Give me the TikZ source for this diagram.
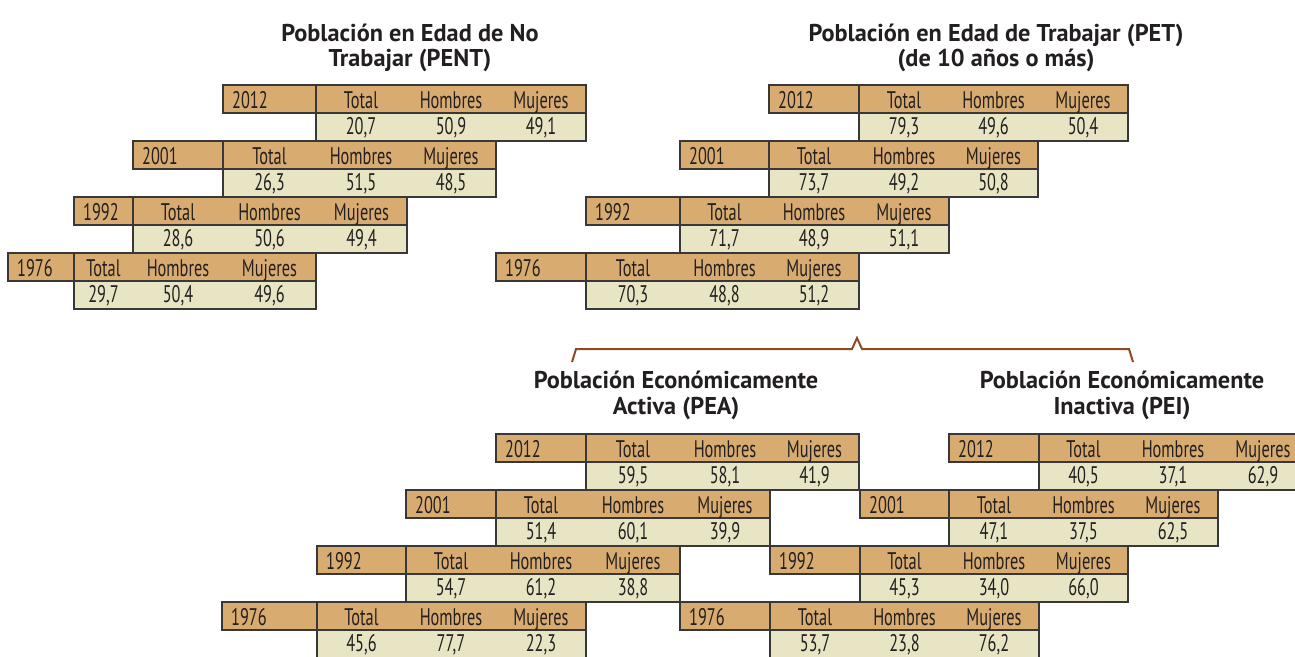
\documentclass[tikz,border=0pt]{standalone}
\usepackage{fontspec}
\newfontfamily\tabfont[FakeStretch=0.68]{PT Sans}
\newfontfamily\ttlfont{PT Sans}
\definecolor{hdr}{HTML}{D8AC70}
\definecolor{val}{HTML}{E8E5C4}
\definecolor{bord}{HTML}{383838}
\definecolor{txt}{HTML}{231F20}
\definecolor{brc}{HTML}{8C4A22}
\newcommand\setcols[5]{\def\xa{#1}\def\xb{#2}\def\xc{#3}\def\xd{#4}\def\xe{#5}}
\newcommand\yrtab[6]{%
  \fill[hdr] (\xa,#2) rectangle (\xe,#2+28);
  \fill[val] (\xb,#2+28) rectangle (\xe,#2+56);
  \draw[cellline] (\xa,#2) rectangle (\xb,#2+28);
  \draw[cellline] (\xb,#2) rectangle (\xe,#2+28);
  \draw[cellline] (\xb,#2+28) rectangle (\xe,#2+56);
  \node[yrtext] (#1y) at (\xa+9,#2+23) {#3};
  \node[celltext] (#1ht) at ({(\xb+\xc)/2},#2+23) {Total};
  \node[celltext] (#1hh) at ({(\xc+\xd)/2},#2+23) {Hombres};
  \node[celltext] (#1hm) at ({(\xd+\xe)/2},#2+23) {Mujeres};
  \node[celltext] (#1vt) at ({(\xb+\xc)/2},#2+49) {#4};
  \node[celltext] (#1vh) at ({(\xc+\xd)/2},#2+49) {#5};
  \node[celltext] (#1vm) at ({(\xd+\xe)/2},#2+49) {#6};
}
\begin{document}
\begin{tikzpicture}[x=1pt,y=-1pt,
  cellline/.style={draw=bord,line width=1.5pt},
  yrtext/.style={anchor=base west,inner sep=0pt,text=txt,font=\tabfont\fontsize{24}{26}\selectfont},
  celltext/.style={anchor=base,inner sep=0pt,text=txt,font=\tabfont\fontsize{24}{26}\selectfont},
  ttl/.style={anchor=base,inner sep=0pt,text=txt,font=\ttlfont\bfseries\fontsize{24.3}{27}\selectfont},
  bracel/.style={draw=brc,line width=2pt,line join=miter}]
\useasboundingbox (0,0) rectangle (1295,656);
\clip (0,0) rectangle (1295,656);
% titles
\node[ttl] (pentA) at (410,41) {Población en Edad de No};
\node[ttl] (pentB) at (410,66) {Trabajar (PENT)};
\node[ttl] (petA) at (996,41) {Población en Edad de Trabajar (PET)};
\node[ttl] (petB) at (996,66) {(de 10 años o más)};
\node[ttl] (peaA) at (676,388) {Población Económicamente};
\node[ttl] (peaB) at (676,414) {Activa (PEA)};
\node[ttl] (peiA) at (1122,388) {Población Económicamente};
\node[ttl] (peiB) at (1122,414) {Inactiva (PEI)};
% PENT
\setcols{8}{74}{133}{223}{316}\yrtab{pentS}{253}{1976}{29,7}{50,4}{49,6}
\setcols{74}{133}{223}{316}{407}\yrtab{pentN}{197}{1992}{28,6}{50,6}{49,4}
\setcols{133}{223}{316}{406}{496}\yrtab{pentO}{141}{2001}{26,3}{51,5}{48,5}
\setcols{223}{316}{406}{496}{586}\yrtab{pentT}{85}{2012}{20,7}{50,9}{49,1}
% PET
\setcols{496}{586}{680}{769}{859}\yrtab{petS}{253}{1976}{70,3}{48,8}{51,2}
\setcols{586}{680}{769}{859}{949}\yrtab{petN}{197}{1992}{71,7}{48,9}{51,1}
\setcols{680}{769}{859}{949}{1038}\yrtab{petO}{141}{2001}{73,7}{49,2}{50,8}
\setcols{769}{859}{949}{1038}{1128}\yrtab{petT}{85}{2012}{79,3}{49,6}{50,4}
% PEA
\setcols{222}{317}{406}{496}{586}\yrtab{peaS}{602}{1976}{45,6}{77,7}{22,3}
\setcols{317}{406}{496}{586}{680}\yrtab{peaN}{546}{1992}{54,7}{61,2}{38,8}
\setcols{406}{496}{586}{680}{770}\yrtab{peaO}{490}{2001}{51,4}{60,1}{39,9}
\setcols{496}{586}{680}{770}{859}\yrtab{peaT}{434}{2012}{59,5}{58,1}{41,9}
% PEI
\setcols{680}{770}{860}{949}{1039}\yrtab{peiS}{602}{1976}{53,7}{23,8}{76,2}
\setcols{770}{860}{949}{1039}{1128}\yrtab{peiN}{546}{1992}{45,3}{34,0}{66,0}
\setcols{860}{949}{1039}{1128}{1218}\yrtab{peiO}{490}{2001}{47,1}{37,5}{62,5}
\setcols{949}{1039}{1128}{1218}{1308}\yrtab{peiT}{434}{2012}{40,5}{37,1}{62,9}
% brace
\coordinate (bl) at (572,362);
\coordinate (br) at (1133,362);
\coordinate (bp) at (857,338);
\draw[bracel] (bl) -- (576,349) -- (852,349) -- (bp) -- (862,349) -- (1129,349) -- (br);
\end{tikzpicture}
\end{document}
